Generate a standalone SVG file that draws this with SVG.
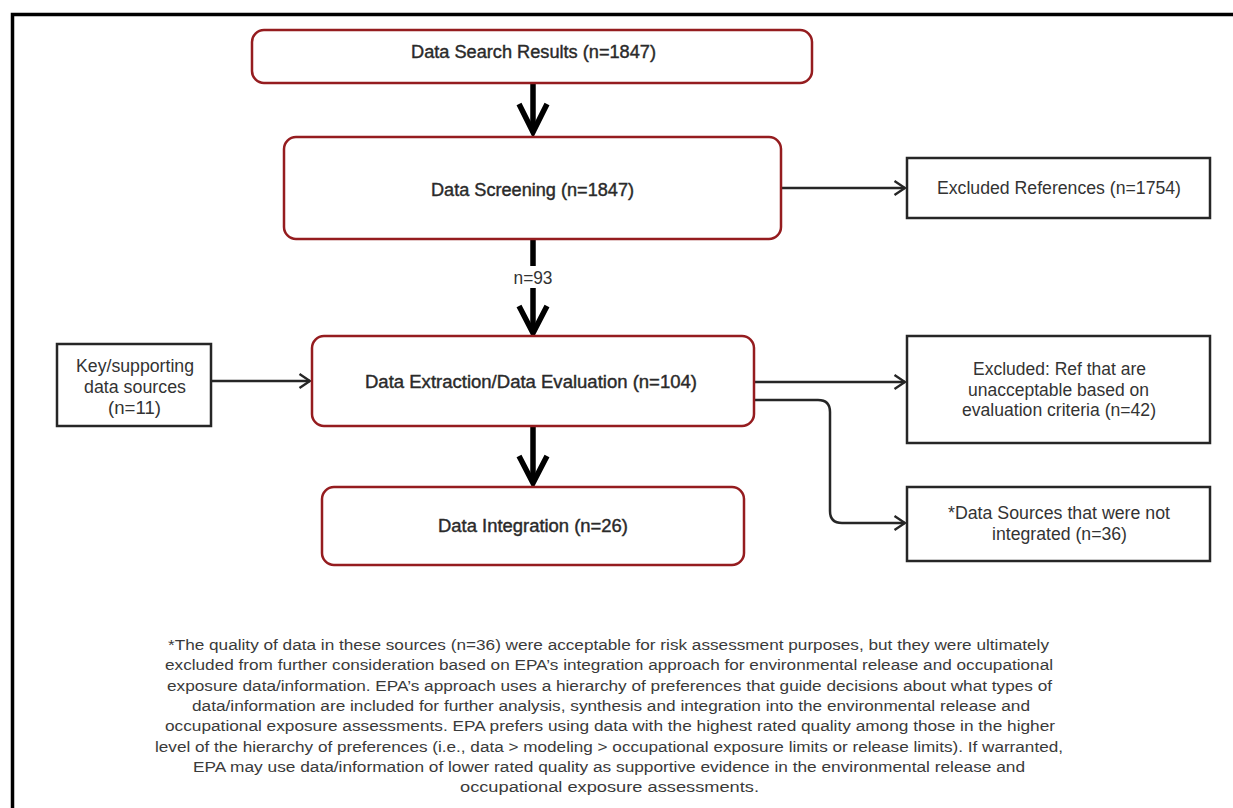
<svg xmlns="http://www.w3.org/2000/svg" width="1233" height="808" viewBox="0 0 1233 808">
  <defs>
    <style>
      .step { fill: #ffffff; stroke: #951c1f; stroke-width: 2.5; }
      .side { fill: #ffffff; stroke: #262626; stroke-width: 2.5; }
      .lbl { font-family: "Liberation Sans", Arial, sans-serif; font-size: 17.5px; fill: #333333; text-anchor: middle; }
      .main { fill: #2a2a2a; stroke: #2a2a2a; stroke-width: 0.4; }
      .note { font-family: "Liberation Sans", Arial, sans-serif; font-size: 15.5px; fill: #3a3a3a; text-anchor: middle; }
      .thin { fill: none; stroke: #262626; stroke-width: 2.5; }
      .thick { fill: none; stroke: #000000; stroke-width: 5.5; stroke-linejoin: miter; }
    </style>
    <marker id="open-head" markerUnits="userSpaceOnUse" viewBox="0 0 14 16" refX="12" refY="8" markerWidth="14" markerHeight="16" orient="auto">
      <path d="M1.5,1 L12,8 L1.5,15" fill="none" stroke="#262626" stroke-width="2.4"/>
    </marker>
  </defs>

  <rect width="1233" height="808" fill="#ffffff"/>

  <!-- outer frame: left and top edges only -->
  <path d="M12.5,808 V14.5 H1233" fill="none" stroke="#000000" stroke-width="3.5"/>

  <!-- connectors -->
  <g id="connectors">
    <!-- search results -> screening -->
    <line class="thick" x1="533" y1="83" x2="533" y2="132"/>
    <polyline class="thick" points="519,104 533,132 547,104"/>
    <!-- screening -> extraction -->
    <line class="thick" x1="533" y1="239" x2="533" y2="266"/>
    <line class="thick" x1="533" y1="288" x2="533" y2="333"/>
    <polyline class="thick" points="519,306 533,333 547,306"/>
    <text class="lbl" x="533" y="284" textLength="39" lengthAdjust="spacingAndGlyphs">n=93</text>
    <!-- extraction -> integration -->
    <line class="thick" x1="533" y1="426" x2="533" y2="483"/>
    <polyline class="thick" points="519,456 533,483 547,456"/>
    <!-- screening -> excluded references -->
    <line class="thin" x1="781" y1="188" x2="905" y2="188" marker-end="url(#open-head)"/>
    <!-- key sources -> extraction -->
    <line class="thin" x1="212" y1="381" x2="310" y2="381" marker-end="url(#open-head)"/>
    <!-- extraction -> excluded (unacceptable) -->
    <line class="thin" x1="754" y1="382" x2="905" y2="382" marker-end="url(#open-head)"/>
    <!-- extraction -> not integrated -->
    <path class="thin" d="M754,400 H818 Q830,400 830,412 V511 Q830,523 842,523 H905" marker-end="url(#open-head)"/>
  </g>

  <!-- nodes -->
  <g id="search-results">
    <rect class="step" x="252" y="30" width="560" height="53" rx="12"/>
    <text class="lbl main" x="533.5" y="58" textLength="245" lengthAdjust="spacingAndGlyphs">Data Search Results (n=1847)</text>
  </g>

  <g id="screening">
    <rect class="step" x="284" y="137" width="497" height="102" rx="12"/>
    <text class="lbl main" x="532.5" y="196" textLength="203" lengthAdjust="spacingAndGlyphs">Data Screening (n=1847)</text>
  </g>

  <g id="excluded-references">
    <rect class="side" x="907" y="158" width="303" height="60"/>
    <text class="lbl" x="1059" y="194" textLength="244" lengthAdjust="spacingAndGlyphs">Excluded References (n=1754)</text>
  </g>

  <g id="key-sources">
    <rect class="side" x="57" y="344" width="154" height="82"/>
    <text class="lbl" x="135" y="372" textLength="118" lengthAdjust="spacingAndGlyphs">Key/supporting</text>
    <text class="lbl" x="135" y="393" textLength="102" lengthAdjust="spacingAndGlyphs">data sources</text>
    <text class="lbl" x="134.5" y="414" textLength="53" lengthAdjust="spacingAndGlyphs">(n=11)</text>
  </g>

  <g id="extraction-evaluation">
    <rect class="step" x="312" y="336" width="442" height="90" rx="12"/>
    <text class="lbl main" x="531" y="388" textLength="332" lengthAdjust="spacingAndGlyphs">Data Extraction/Data Evaluation (n=104)</text>
  </g>

  <g id="excluded-unacceptable">
    <rect class="side" x="907" y="336" width="303" height="107"/>
    <text class="lbl" x="1059.5" y="375" textLength="173" lengthAdjust="spacingAndGlyphs">Excluded: Ref that are</text>
    <text class="lbl" x="1058.5" y="396" textLength="181" lengthAdjust="spacingAndGlyphs">unacceptable based on</text>
    <text class="lbl" x="1059" y="416" textLength="194" lengthAdjust="spacingAndGlyphs">evaluation criteria (n=42)</text>
  </g>

  <g id="integration">
    <rect class="step" x="322" y="487" width="422" height="78" rx="12"/>
    <text class="lbl main" x="533" y="532" textLength="190" lengthAdjust="spacingAndGlyphs">Data Integration (n=26)</text>
  </g>

  <g id="not-integrated">
    <rect class="side" x="907" y="487" width="303" height="74"/>
    <text class="lbl" x="1059" y="519" textLength="222" lengthAdjust="spacingAndGlyphs">*Data Sources that were not</text>
    <text class="lbl" x="1059.5" y="540" textLength="135" lengthAdjust="spacingAndGlyphs">integrated (n=36)</text>
  </g>

  <!-- footnote -->
  <g id="footnote">
    <text class="note" x="608.5" y="650" textLength="881" lengthAdjust="spacingAndGlyphs">*The quality of data in these sources (n=36) were acceptable for risk assessment purposes, but they were ultimately</text>
    <text class="note" x="609" y="670" textLength="888" lengthAdjust="spacingAndGlyphs">excluded from further consideration based on EPA’s integration approach for environmental release and occupational</text>
    <text class="note" x="609.5" y="691" textLength="885" lengthAdjust="spacingAndGlyphs">exposure data/information. EPA’s approach uses a hierarchy of preferences that guide decisions about what types of</text>
    <text class="note" x="611" y="711" textLength="838" lengthAdjust="spacingAndGlyphs">data/information are included for further analysis, synthesis and integration into the environmental release and</text>
    <text class="note" x="610" y="731" textLength="890" lengthAdjust="spacingAndGlyphs">occupational exposure assessments. EPA prefers using data with the highest rated quality among those in the higher</text>
    <text class="note" x="609" y="752" textLength="908" lengthAdjust="spacingAndGlyphs">level of the hierarchy of preferences (i.e., data &gt; modeling &gt; occupational exposure limits or release limits). If warranted,</text>
    <text class="note" x="609" y="772" textLength="832" lengthAdjust="spacingAndGlyphs">EPA may use data/information of lower rated quality as supportive evidence in the environmental release and</text>
    <text class="note" x="609.5" y="792" textLength="299" lengthAdjust="spacingAndGlyphs">occupational exposure assessments.</text>
  </g>
</svg>
